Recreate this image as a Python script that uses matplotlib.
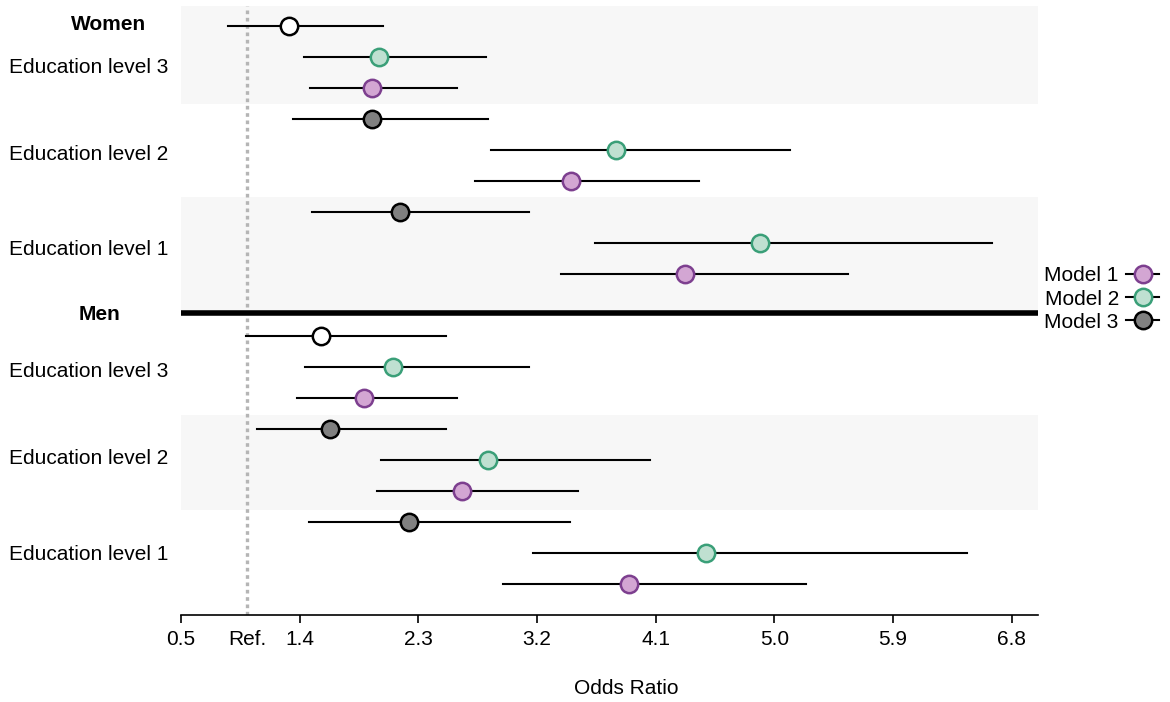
import matplotlib
matplotlib.use("Agg")
import matplotlib.pyplot as plt
import matplotlib.transforms as mtransforms
from matplotlib.lines import Line2D

plt.rcParams['font.family'] = ['Liberation Sans', 'DejaVu Sans']

# groups top->bottom within each sex: level 3, level 2, level 1
levels = ["Education level 3", "Education level 2", "Education level 1"]
sexes = ["Women", "Men"]
models = ["Model 1", "Model 2", "Model 3"]

women_m3 = [1.32, 1.95, 2.16]
women_m3_lo = [0.86, 1.35, 1.49]
women_m3_hi = [2.03, 2.83, 3.14]
women_m2 = [2.00, 3.80, 4.89]
women_m2_lo = [1.43, 2.85, 3.64]
women_m2_hi = [2.81, 5.12, 6.65]
women_m1 = [1.95, 3.46, 4.32]
women_m1_lo = [1.48, 2.73, 3.38]
women_m1_hi = [2.59, 4.43, 5.56]

men_m3 = [1.56, 1.63, 2.23]
men_m3_lo = [0.99, 1.08, 1.47]
men_m3_hi = [2.51, 2.51, 3.45]
men_m2 = [2.11, 2.83, 4.48]
men_m2_lo = [1.44, 2.02, 3.17]
men_m2_hi = [3.14, 4.06, 6.46]
men_m1 = [1.89, 2.63, 3.90]
men_m1_lo = [1.38, 1.99, 2.94]
men_m1_hi = [2.59, 3.51, 5.24]

xticks = [0.5, 1.4, 2.3, 3.2, 4.1, 5.0, 5.9, 6.8]
ref_value = 1.0

fill = {"Model 1": "#d3a6d3", "Model 2": "#bfe0d1", "Model 3": "#808080"}
edge = {"Model 1": "#7d3f8f", "Model 2": "#3a9f78", "Model 3": "#000000"}

fig = plt.figure(figsize=(11.7, 7.02), dpi=100)
ax = fig.add_axes([181/1170, 1-615/702, 857/1170, 609/702])
fs = 15

data = {
    "Women": [(women_m3, women_m3_lo, women_m3_hi),
              (women_m2, women_m2_lo, women_m2_hi),
              (women_m1, women_m1_lo, women_m1_hi)],
    "Men": [(men_m3, men_m3_lo, men_m3_hi),
            (men_m2, men_m2_lo, men_m2_hi),
            (men_m1, men_m1_lo, men_m1_hi)],
}
model_order = ["Model 3", "Model 2", "Model 1"]

# shaded bands
ax.axhspan(-0.65, 2.5, color="#f7f7f7", zorder=0, lw=0)
ax.axhspan(5.5, 9.25, color="#f7f7f7", zorder=0, lw=0)
ax.axhspan(12.55, 15.6, color="#f7f7f7", zorder=0, lw=0)

ax.axvline(ref_value, color="#b5b5b5", lw=2.4, ls=(0, (1.1, 1.1)), zorder=1)

for s, sex in enumerate(sexes):
    base = 10 * s
    for g in range(3):
        for k, m in enumerate(model_order):
            vals, lo, hi = data[sex][k]
            y = base + 3 * g + k
            ax.plot([lo[g], hi[g]], [y, y], color="black", lw=1.5, zorder=2)
            fc = fill[m]
            if m == "Model 3" and g == 0:
                fc = "white"
            ax.plot(vals[g], y, "o", ms=12.5, mfc=fc, mec=edge[m], mew=1.8, zorder=3)

ax.axhline(9.25, color="black", lw=4, zorder=4)

ax.set_xlim(0.5, 7.0)
ax.set_ylim(19, -0.65)
ax.set_yticks([])
for sp in ["left", "right", "top"]:
    ax.spines[sp].set_visible(False)
ax.spines["bottom"].set_linewidth(1.2)
ax.set_xticks(xticks)
ax.set_xticklabels([f"{t:.1f}" for t in xticks], fontsize=fs)
ax.set_xticks([ref_value], minor=True)
ax.set_xticklabels(["Ref."], minor=True, fontsize=fs)
ax.tick_params(axis="x", which="major", length=6, width=1.2, pad=5)
ax.tick_params(axis="x", which="minor", length=0, pad=11)
ax.set_xlabel("Odds Ratio", fontsize=fs)
ax.xaxis.set_label_coords(0.519, -0.105)

trans = mtransforms.blended_transform_factory(fig.transFigure, ax.transData)
ax.text(109/1170, -0.05, "Women", transform=trans, ha="center", va="center",
        fontsize=fs, fontweight="bold")
ax.text(100/1170, 9.3, "Men", transform=trans, ha="center", va="center",
        fontsize=fs, fontweight="bold")
label_rows = {("Women", 0): 1.35, ("Women", 1): 4.15, ("Women", 2): 7.2,
              ("Men", 0): 11.15, ("Men", 1): 13.95, ("Men", 2): 17.05}
for sex in sexes:
    for g, lab in enumerate(levels):
        ax.text(168/1170, label_rows[(sex, g)], lab, transform=trans,
                ha="right", va="center", fontsize=fs)

handles = [Line2D([0], [0], color="black", lw=1.5, marker="o", ms=12.5,
                  mfc=fill[m], mec=edge[m], mew=1.8) for m in models]
fig.legend(handles, models, loc="center left", bbox_to_anchor=(1034/1170, 1-299/702),
           frameon=False, markerfirst=False, fontsize=fs, handlelength=1.6,
           handletextpad=0.35, labelspacing=0.2, borderpad=0)

fig.savefig("out.png", dpi=100)
